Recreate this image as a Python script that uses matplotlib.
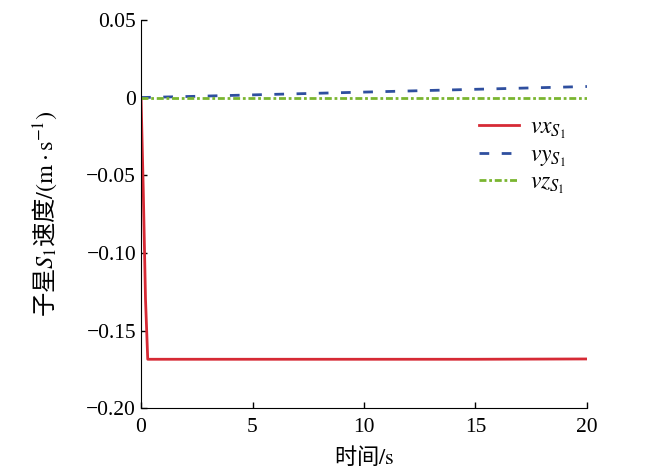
import numpy as np
import matplotlib.pyplot as plt
plt.switch_backend('agg')

plt.rcParams['font.family'] = ['Liberation Serif', 'DejaVu Serif']
plt.rcParams['mathtext.fontset'] = 'stix'
plt.rcParams['axes.unicode_minus'] = True

# values
t_vx = [0, 0.1, 0.2, 0.3, 1, 5, 10, 15, 20]
vx = [0, -0.06, -0.13, -0.1685, -0.1685, -0.1685, -0.1685, -0.1685, -0.1683]
t_vyz = [0, 2.5, 5, 7.5, 10, 12.5, 15, 17.5, 20]
vy = [0, 0.0008, 0.0017, 0.0026, 0.0035, 0.0044, 0.0053, 0.0062, 0.0071]
vz = [0, 0, 0, 0, 0, 0, 0, 0, 0]

xticks = [0, 5, 10, 15, 20]
yticks = [0.05, 0, -0.05, -0.10, -0.15, -0.20]
ytick_labels = ['0.05', '0', '\u22120.05', '\u22120.10', '\u22120.15', '\u22120.20']

fig = plt.figure(figsize=(6.5, 4.73), dpi=100)
ax = fig.add_axes([0.217, 0.137, 0.686, 0.821])

ax.plot(t_vx, vx, color='#d62a35', linewidth=2, label=r'$vx_{S_1}$')
ax.plot(t_vyz, vy, color='#2f4f9f', linewidth=2, dashes=(3.5, 4.5), label=r'$vy_{S_1}$')
ax.plot(t_vyz, vz, color='#7ab530', linewidth=2, dashes=(2.5, 1, 1, 1), label=r'$vz_{S_1}$')

ax.set_xlim(0, 20)
ax.set_ylim(-0.20, 0.05)
ax.set_xticks(xticks)
ax.set_yticks(yticks)
ax.set_yticklabels(ytick_labels)
ax.tick_params(direction='in', length=4, labelsize=15.5, width=1)
ax.tick_params(axis='x', pad=7)
ax.spines['top'].set_visible(False)
ax.spines['right'].set_visible(False)

ax.set_xlabel(r'时间$/\mathrm{s}$', fontsize=16, family='Noto Sans CJK SC', labelpad=5)
ax.set_ylabel(r'子星$S_1$速度$/(\mathrm{m\cdot s}^{-1})$', fontsize=17.5,
              family='Noto Sans CJK SC', labelpad=20)

ax.legend(loc='upper right', bbox_to_anchor=(1.0, 0.805), frameon=False, fontsize=17,
          handlelength=1.7, handletextpad=0.45, labelspacing=0.15)

fig.savefig('out.png', dpi=100)
